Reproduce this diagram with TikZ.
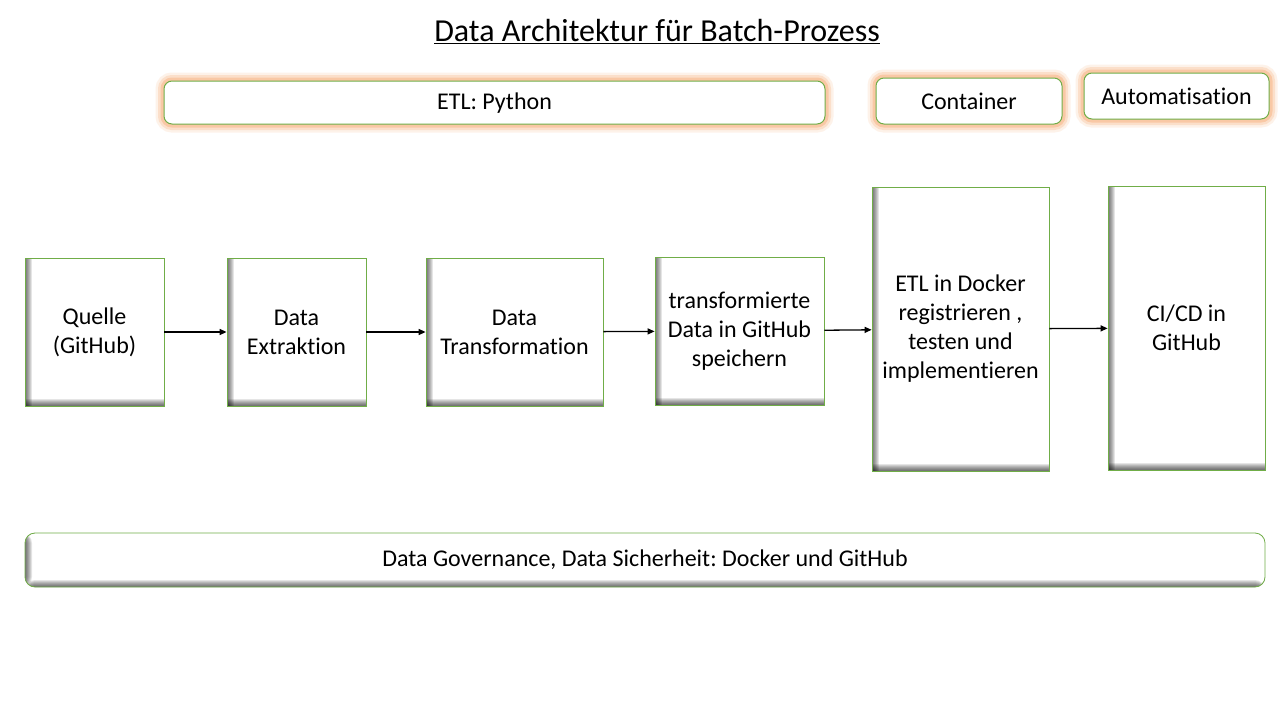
\documentclass[tikz,border=0pt]{standalone}
\usepackage{fontspec}
\setmainfont{Carlito}[Ligatures=NoCommon]
\frenchspacing
\usetikzlibrary{arrows.meta}
\definecolor{boxgreen}{RGB}{112,173,71}
\definecolor{glow}{RGB}{246,150,80}
\tikzset{
 txt/.style={font=\fontsize{24}{29}\selectfont, align=center, text=black},
 glowbox/.style={txt, draw=boxgreen, line width=1pt, rounded corners=8pt, fill=white, inner sep=0pt,
   preaction={draw=glow, draw opacity=0.12, line width=17pt},
   preaction={draw=glow, draw opacity=0.2, line width=12pt},
   preaction={draw=glow, draw opacity=0.3, line width=7pt}},
 shadowbox/.style={txt, draw=boxgreen, line width=0.8pt, fill=white, inner sep=0pt,
   path picture={
     \foreach \i in {1,...,7}{
       \fill[black, fill opacity=0.1] (path picture bounding box.south west) rectangle ([yshift=\i pt]path picture bounding box.south east);
       \fill[black, fill opacity=0.1] (path picture bounding box.south west) rectangle ([xshift=\i pt]path picture bounding box.north west);
     }
   }},
 govbox/.style={shadowbox, rounded corners=10pt},
 flow/.style={-{Triangle[length=7pt,width=6pt]}, line width=1.3pt, black}
}
\begin{document}
\begin{tikzpicture}[x=1pt,y=-1pt]
\useasboundingbox[fill=white] (0,0) rectangle (1280,720);
\node[font=\fontsize{32}{38}\selectfont] (title) at (657,32) {\underline{Data Architektur für Batch-Prozess}};
\node[glowbox, minimum width=661pt, minimum height=43pt, text depth=2pt] (etl) at (494.5,102.5) {ETL: Python};
\node[glowbox, minimum width=186pt, minimum height=46pt] (cont) at (969,101) {Container};
\node[glowbox, minimum width=185pt, minimum height=46pt] (auto) at (1176.5,96) {Automatisation};
\node[shadowbox, minimum width=139pt, minimum height=148pt] (q) at (94.5,332) {Quelle\\(GitHub)};
\node[shadowbox, minimum width=139pt, minimum height=148pt] (ex) at (296.5,332) {Data\\Extraktion};
\node[shadowbox, minimum width=177pt, minimum height=148pt] (tr) at (514.5,332) {Data\\Transformation};
\node[shadowbox, minimum width=169pt, minimum height=148pt] (sp) at (739.5,331) {transformierte\\Data in GitHub\\speichern};
\node[shadowbox, minimum width=177pt, minimum height=284pt] (dock) at (960.5,329) {ETL in Docker\\registrieren ,\\testen und\\implementieren};
\node[shadowbox, minimum width=157pt, minimum height=284pt] (ci) at (1186.5,328) {CI/CD in\\GitHub};
\node[govbox, minimum width=1240pt, minimum height=54pt] (gov) at (645,560) {Data Governance, Data Sicherheit: Docker und GitHub};
\draw[flow] (q) -- (ex);
\draw[flow] (ex) -- (tr);
\draw[flow] (tr) -- (sp);
\draw[flow] (sp) -- (dock);
\draw[flow] (dock) -- (ci);
\end{tikzpicture}
\end{document}
